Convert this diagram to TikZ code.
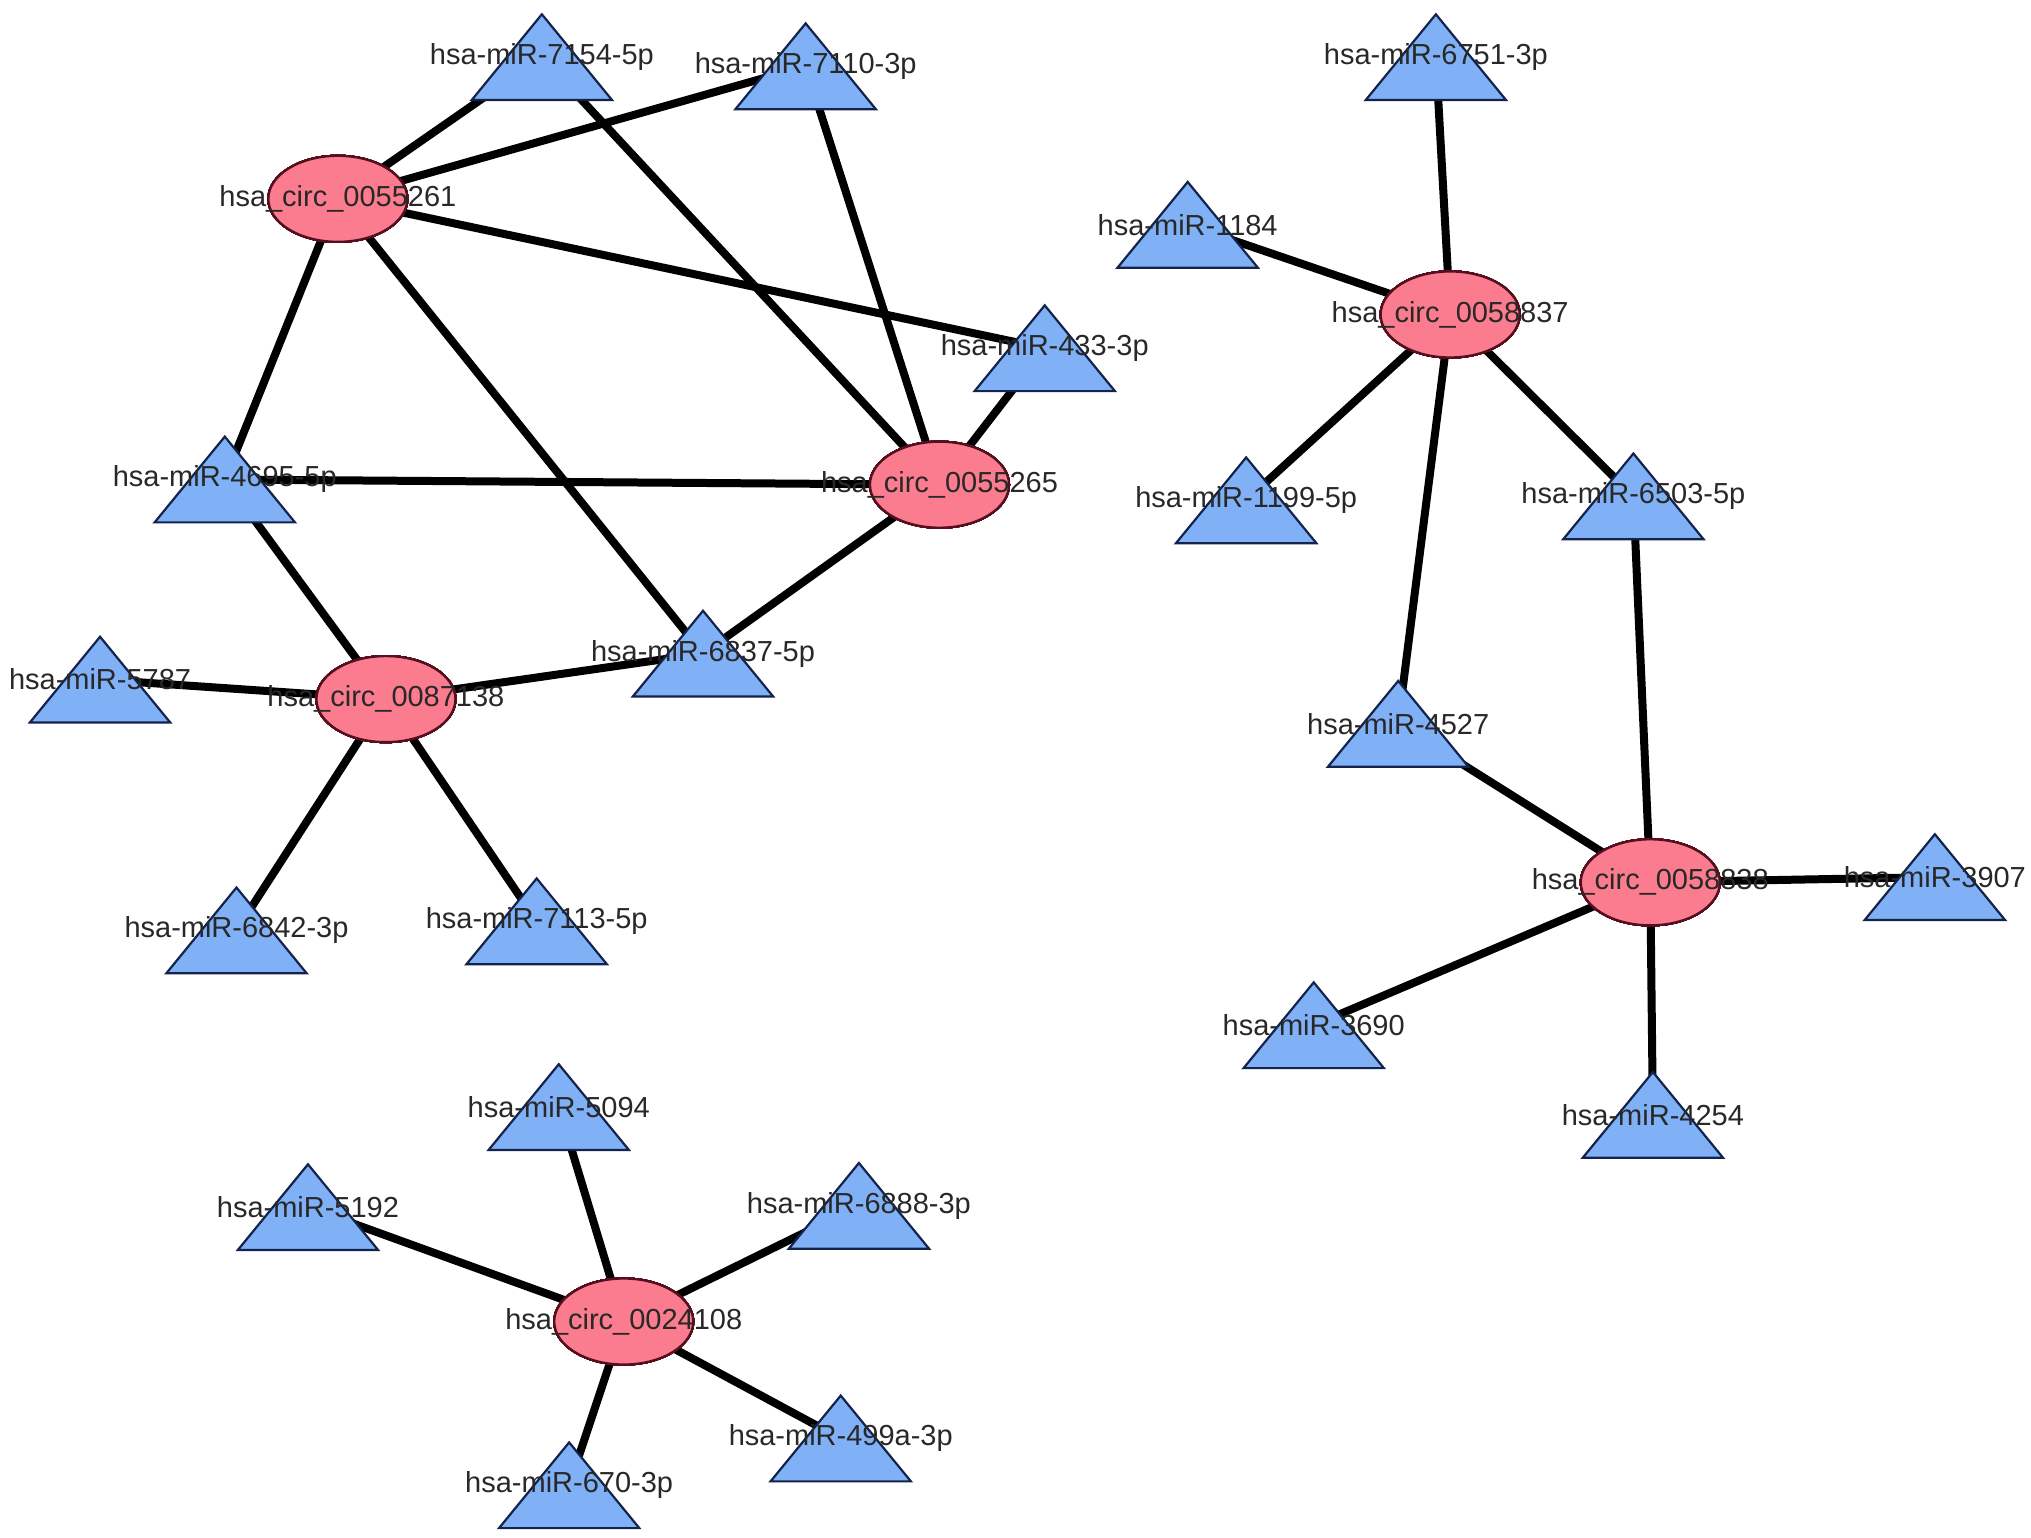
\documentclass[tikz,border=0pt]{standalone}
\usepackage{fontspec}
\setmainfont{Liberation Sans}
\definecolor{circfill}{RGB}{250,124,142}
\definecolor{circdraw}{RGB}{85,15,30}
\definecolor{mirfill}{RGB}{128,176,246}
\definecolor{mirdraw}{RGB}{20,35,75}
\definecolor{labtext}{RGB}{40,40,40}
\tikzset{
  edge/.style={line width=8pt},
  circnode/.style={ellipse, draw=circdraw, fill=circfill, line width=2.2pt, minimum width=139pt, minimum height=86pt, inner sep=0pt},
  mirtri/.style={draw=mirdraw, fill=mirfill, line width=2.2pt, line join=miter},
  lab/.style={text=labtext, font=\fontsize{29}{34}\selectfont, inner sep=0pt},
}
\usetikzlibrary{shapes.geometric}
\newcommand\mirshape[1]{\draw[mirtri] ([shift={(-54,33)}]#1) -- ([shift={(54,33)}]#1) -- ([shift={(0,-33)}]#1) -- cycle;}
\begin{document}
\begin{tikzpicture}[x=1.3pt,y=-1.3pt]
\useasboundingbox (0,0) rectangle (1563,1183);
% circRNA centres
\coordinate (c61) at (260,153);
\coordinate (c65) at (723,373);
\coordinate (c38a) at (297,538);
\coordinate (c37) at (1116,242);
\coordinate (c38) at (1270,679);
\coordinate (c08) at (480,1017);
% miRNA centres
\coordinate (m7154) at (417,44);
\coordinate (m7110) at (620,51);
\coordinate (m433) at (804,268);
\coordinate (m4695) at (173,369);
\coordinate (m6837) at (541,503);
\coordinate (m5787) at (77,523);
\coordinate (m6842) at (182,716);
\coordinate (m7113) at (413,709);
\coordinate (m6751) at (1105,44);
\coordinate (m1184) at (914,173);
\coordinate (m1199) at (959,385);
\coordinate (m6503) at (1257,382);
\coordinate (m4527) at (1076,557);
\coordinate (m3907) at (1489,675);
\coordinate (m3690) at (1011,789);
\coordinate (m4254) at (1272,858);
\coordinate (m5094) at (430,852);
\coordinate (m5192) at (237,929);
\coordinate (m6888) at (661,928);
\coordinate (m499) at (647,1107);
\coordinate (m670) at (438,1143);
% edges
\foreach \a/\b in {c61/m7154,c61/m7110,c61/m433,c61/m4695,c61/m6837,
  c65/m7154,c65/m7110,c65/m433,c65/m4695,c65/m6837,
  c38a/m4695,c38a/m5787,c38a/m6837,c38a/m6842,c38a/m7113,
  c37/m6751,c37/m1184,c37/m1199,c37/m6503,c37/m4527,
  c38/m4527,c38/m6503,c38/m3907,c38/m3690,c38/m4254,
  c08/m5094,c08/m5192,c08/m6888,c08/m499,c08/m670}
  \draw[edge] (\a) -- (\b);
% triangles
\foreach \m in {m7154,m7110,m433,m4695,m6837,m5787,m6842,m7113,m6751,m1184,m1199,m6503,m4527,m3907,m3690,m4254,m5094,m5192,m6888,m499,m670}
  \mirshape{\m}
% ellipses
\foreach \c in {c61,c65,c38a,c37,c38,c08}
  \node[circnode] (n\c) at (\c) {};
% labels
\node[lab] (l61) at (c61) {hsa\_circ\_0055261};
\node[lab] (l65) at (c65) {hsa\_circ\_0055265};
\node[lab] (l38a) at (c38a) {hsa\_circ\_0087138};
\node[lab] (l37) at (c37) {hsa\_circ\_0058837};
\node[lab] (l38) at (c38) {hsa\_circ\_0058838};
\node[lab] (l08) at (c08) {hsa\_circ\_0024108};
\node[lab] (t7154) at (m7154) {hsa-miR-7154-5p};
\node[lab] (t7110) at (m7110) {hsa-miR-7110-3p};
\node[lab] (t433) at (m433) {hsa-miR-433-3p};
\node[lab] (t4695) at (m4695) {hsa-miR-4695-5p};
\node[lab] (t6837) at (m6837) {hsa-miR-6837-5p};
\node[lab] (t5787) at (m5787) {hsa-miR-5787};
\node[lab] (t6842) at (m6842) {hsa-miR-6842-3p};
\node[lab] (t7113) at (m7113) {hsa-miR-7113-5p};
\node[lab] (t6751) at (m6751) {hsa-miR-6751-3p};
\node[lab] (t1184) at (m1184) {hsa-miR-1184};
\node[lab] (t1199) at (m1199) {hsa-miR-1199-5p};
\node[lab] (t6503) at (m6503) {hsa-miR-6503-5p};
\node[lab] (t4527) at (m4527) {hsa-miR-4527};
\node[lab] (t3907) at (m3907) {hsa-miR-3907};
\node[lab] (t3690) at (m3690) {hsa-miR-3690};
\node[lab] (t4254) at (m4254) {hsa-miR-4254};
\node[lab] (t5094) at (m5094) {hsa-miR-5094};
\node[lab] (t5192) at (m5192) {hsa-miR-5192};
\node[lab] (t6888) at (m6888) {hsa-miR-6888-3p};
\node[lab] (t499) at (m499) {hsa-miR-499a-3p};
\node[lab] (t670) at (m670) {hsa-miR-670-3p};
\end{tikzpicture}
\end{document}
